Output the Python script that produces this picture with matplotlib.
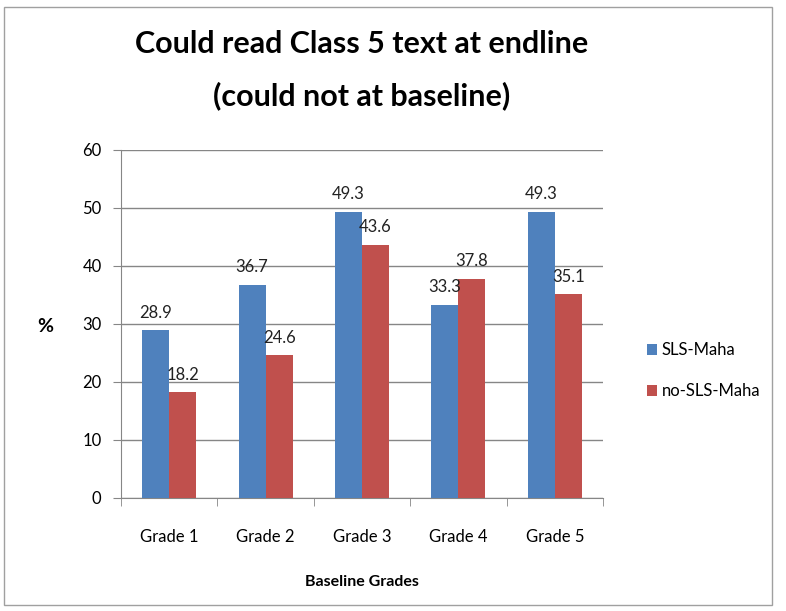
import matplotlib.pyplot as plt
import numpy as np
from matplotlib.patches import Rectangle

categories = ['Grade 1', 'Grade 2', 'Grade 3', 'Grade 4', 'Grade 5']
sls_maha = [28.9, 36.7, 49.3, 33.3, 49.3]
no_sls_maha = [18.2, 24.6, 43.6, 37.8, 35.1]
series_names = ['SLS-Maha', 'no-SLS-Maha']

plt.rcParams['font.family'] = ['Lato', 'DejaVu Sans']

fig = plt.figure(figsize=(7.86, 6.11), dpi=100)
ax = fig.add_axes([121 / 786, 113 / 611, 482 / 786, 348 / 611])

x = np.arange(len(categories))
w = 0.28
b1 = ax.bar(x - w / 2, sls_maha, w, color='#4F81BD', label=series_names[0], zorder=3)
b2 = ax.bar(x + w / 2, no_sls_maha, w, color='#C0504D', label=series_names[1], zorder=3)
for bars in (b1, b2):
    for r in bars:
        ax.annotate(f'{r.get_height():.1f}', (r.get_x() + r.get_width() / 2, r.get_height()),
                    xytext=(0, 7), textcoords='offset points', ha='center', va='bottom',
                    fontsize=12, color='#222222', zorder=4)

ax.set_xlim(-0.5, len(categories) - 0.5)
ax.set_ylim(0, 60)
ax.set_yticks(range(0, 61, 10))
ax.set_xticks(x)
ax.set_xticklabels(categories)
ax.set_xticks(np.arange(-0.5, len(categories), 1), minor=True)
ax.tick_params(axis='x', which='major', length=0, pad=22, labelsize=12)
ax.tick_params(axis='x', which='minor', length=6, color='#868686')
ax.tick_params(axis='y', length=6, color='#868686', labelsize=12, pad=8)
ax.grid(axis='y', color='#868686', linewidth=1, zorder=0)
for s in ['top', 'right']:
    ax.spines[s].set_visible(False)
for s in ['left', 'bottom']:
    ax.spines[s].set_color('#868686')

ax.set_xlabel('Baseline Grades', fontweight='bold', fontsize=11.5, labelpad=22)
fig.text(45 / 786, 1 - 327 / 611, '%', fontsize=14, fontweight='bold', ha='center', va='center')

fig.text(362 / 786, 1 - 70 / 611, 'Could read Class 5 text at endline\n(could not at baseline)',
         ha='center', va='center', fontsize=22, fontweight='bold', linespacing=1.95)

ax.legend(loc='center left', bbox_to_anchor=(632 / 786, 1 - 371 / 611),
          bbox_transform=fig.transFigure, frameon=False, fontsize=12,
          handlelength=0.6, handleheight=0.6, handletextpad=0.3, labelspacing=1.5)

fig.patches.append(Rectangle((4 / 786, 6 / 611), 768 / 786, 598 / 611, transform=fig.transFigure,
                             fill=False, edgecolor='#A0A0A0', linewidth=1))

fig.savefig('out.png', dpi=100, facecolor='white')
